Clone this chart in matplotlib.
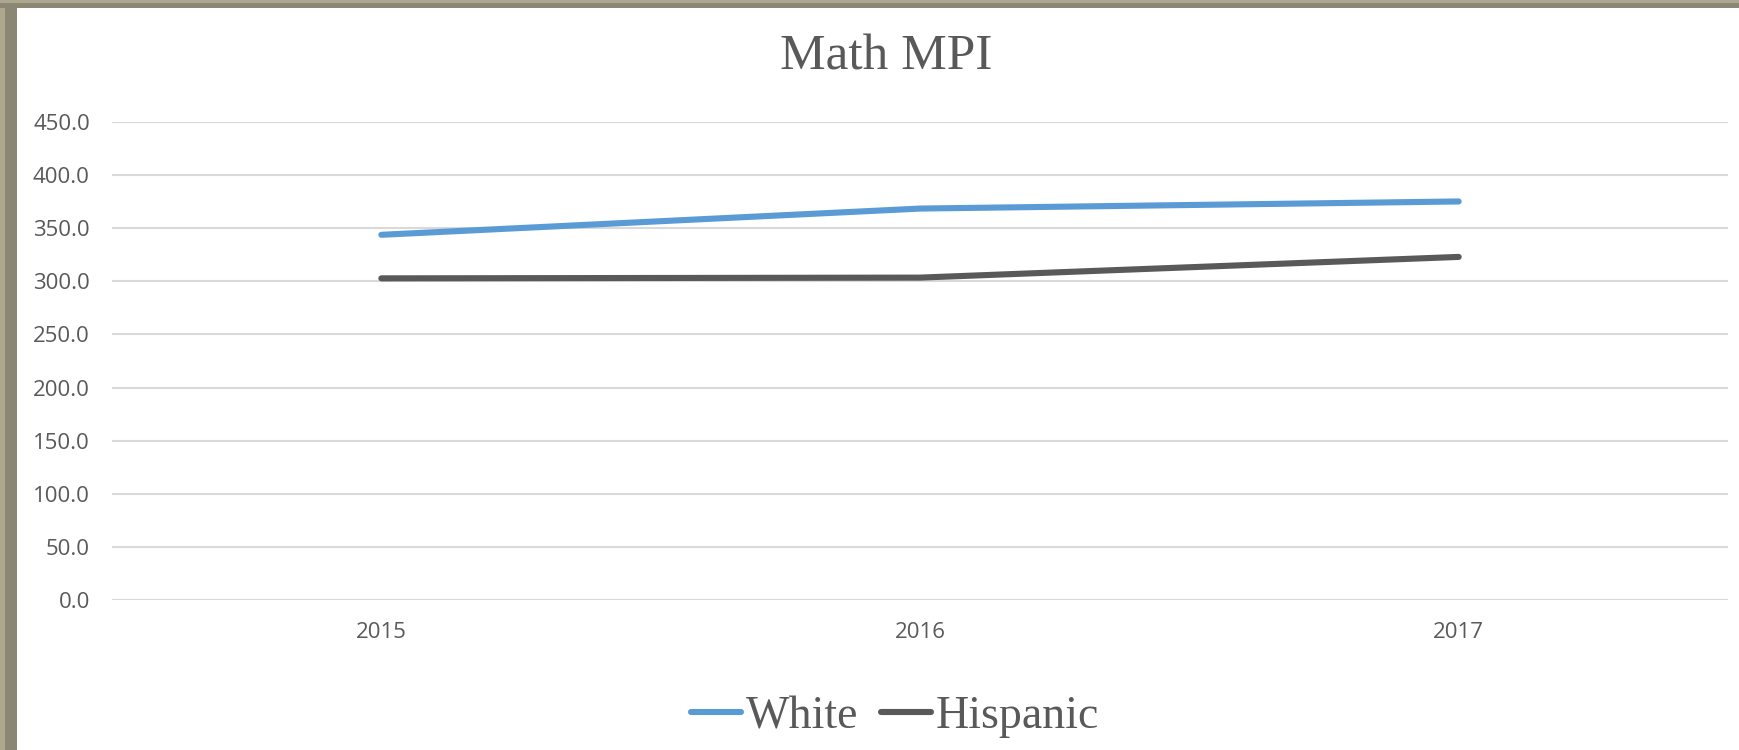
import numpy as np
import matplotlib.pyplot as plt
from matplotlib.patches import Rectangle

years = ["2015", "2016", "2017"]
white = [343.8, 368.5, 375.2]
hispanic = [302.8, 303.5, 323.0]
yticks = [0, 50, 100, 150, 200, 250, 300, 350, 400, 450]

W, H = 1740, 750
fig = plt.figure(figsize=(W / 100, H / 100), dpi=100)
fig.patch.set_facecolor("white")

# frame strips on the top and left edges
for x0, x1, c in [(0, 17, "#8b8775"), (0, 5, "#aea78f")]:
    fig.add_artist(Rectangle((x0 / W, 0), (x1 - x0) / W, 1, transform=fig.transFigure,
                             facecolor=c, edgecolor="none", zorder=5))
for y0, y1, c in [(0, 8, "#8b8775"), (0, 3, "#aea78f")]:
    fig.add_artist(Rectangle((0, 1 - y1 / H), 1, (y1 - y0) / H, transform=fig.transFigure,
                             facecolor=c, edgecolor="none", zorder=5))

ax = fig.add_axes([112 / W, 1 - 600 / H, (1728 - 112) / W, (600 - 122) / H])
x = np.arange(len(years))
ax.plot(x, white, color="#5b9bd5", lw=4.4, solid_capstyle="round", solid_joinstyle="round",
        label="White", zorder=3)
ax.plot(x, hispanic, color="#595959", lw=4.4, solid_capstyle="round", solid_joinstyle="round",
        label="Hispanic", zorder=3)

ax.set_xlim(-0.5, len(years) - 0.5)
ax.set_ylim(0, 450)
ax.set_yticks(yticks)
ax.set_yticklabels([f"{v:.1f}" for v in yticks])
ax.set_xticks(x)
ax.set_xticklabels(years)
ax.grid(axis="y", color="#d9d9d9", lw=1.5)
ax.set_axisbelow(True)
for s in ax.spines.values():
    s.set_visible(False)
ax.tick_params(axis="both", length=0, labelsize=16, labelcolor="#595959")
ax.tick_params(axis="y", pad=16)
ax.tick_params(axis="x", pad=16)
for lab in ax.get_xticklabels() + ax.get_yticklabels():
    lab.set_fontfamily("Open Sans")

fig.text(886 / W, 1 - 57 / H, "Math MPI", ha="center", va="center",
         family="Liberation Serif", fontsize=37, color="#595959")

leg = fig.legend(loc="center", bbox_to_anchor=(895 / W, 1 - 717 / H), ncol=2, frameon=False,
                 prop={"family": "Liberation Serif", "size": 33}, labelcolor="#595959",
                 handlelength=1.1, handletextpad=0.1, columnspacing=0.5)

fig.savefig("out.png", dpi=100)
